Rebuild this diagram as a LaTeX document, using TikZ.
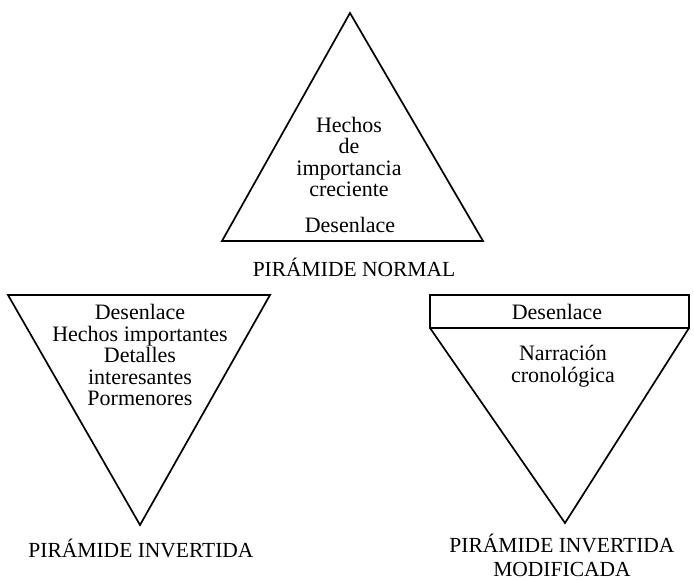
\documentclass[tikz,border=0pt]{standalone}
\usepackage{fontspec}
\setmainfont{Liberation Serif}
\begin{document}
\begin{tikzpicture}[x=1pt,y=-1pt,
  pyr/.style={line width=1.7pt, line join=miter},
  bodytxt/.style={font=\fontsize{22}{21.5}\selectfont, align=center, inner sep=0pt},
  captxt/.style={font=\fontsize{21.5}{24}\selectfont, align=center, inner sep=0pt}]
\useasboundingbox (0,0) rectangle (694,580);
% top pyramid
\draw[pyr] (350,13) -- (483,241) -- (222,241) -- cycle;
\node[bodytxt] (nh) at (349,157) {Hechos\\de\\importancia\\creciente};
\node[bodytxt] (nd) at (350,225) {Desenlace};
\node[captxt] (nc) at (354,267) {PIRÁMIDE NORMAL};
% left inverted pyramid
\draw[pyr] (8,295) -- (270,295) -- (140,525) -- cycle;
\node[bodytxt] (ld) at (140,355) {Desenlace\\Hechos importantes\\Detalles\\interesantes\\Pormenores};
\node[captxt] (lc) at (141,548) {PIRÁMIDE INVERTIDA};
% right modified inverted pyramid
\draw[pyr] (430,295) rectangle (689,328);
\draw[pyr] (430,328) -- (565,523) -- (689,328);
\node[bodytxt] (rd) at (557,312) {Desenlace};
\node[bodytxt] (rn) at (563,366) {Narración\\cronológica};
\node[captxt] (rc) at (562,555) {PIRÁMIDE INVERTIDA\\MODIFICADA};
\end{tikzpicture}
\end{document}
